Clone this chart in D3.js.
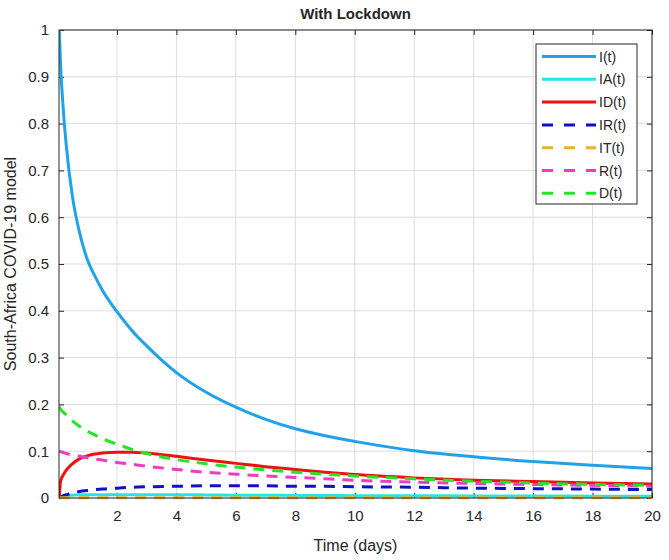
<!DOCTYPE html>
<html>
<head>
<meta charset="utf-8">
<script src="https://cdn.jsdelivr.net/npm/d3@7"></script>
<style>
  html, body { margin: 0; padding: 0; background: #fff; }
  svg { display: block; }
  text { font-family: "Liberation Sans", Arial, sans-serif; fill: #262626; }
</style>
</head>
<body>
<svg id="chart" width="669" height="560"></svg>
<script>
// ---- data ----
const title = "With Lockdown";
const xLabel = "Time (days)";
const yLabel = "South-Africa COVID-19 model";
const xTicks = [2, 4, 6, 8, 10, 12, 14, 16, 18, 20];
const yTicks = [0, 0.1, 0.2, 0.3, 0.4, 0.5, 0.6, 0.7, 0.8, 0.9, 1];
const xDomain = [0.05, 20];
const yDomain = [0, 1];

const t     = [0.06, 0.1, 0.2, 0.3, 0.5, 0.75, 1, 1.25, 1.5, 2, 2.5, 3, 4, 5, 6, 7, 8, 9, 10, 12, 14, 16, 18, 20];
const I_t   = [1.0, 0.93, 0.825, 0.75, 0.645, 0.565, 0.51, 0.475, 0.445, 0.398, 0.358, 0.325, 0.268, 0.226, 0.194, 0.168, 0.148, 0.133, 0.121, 0.101, 0.088, 0.078, 0.07, 0.063];
const IA_t  = [0, 0.002, 0.004, 0.005, 0.006, 0.007, 0.007, 0.007, 0.007, 0.007, 0.007, 0.007, 0.007, 0.0065, 0.006, 0.006, 0.0055, 0.0055, 0.005, 0.005, 0.0045, 0.0045, 0.004, 0.004];
const ID_t  = [0, 0.035, 0.05, 0.06, 0.073, 0.084, 0.09, 0.094, 0.096, 0.098, 0.098, 0.096, 0.089, 0.081, 0.074, 0.067, 0.061, 0.055, 0.05, 0.043, 0.038, 0.035, 0.032, 0.03];
const IR_t  = [0, 0.002, 0.005, 0.007, 0.011, 0.014, 0.016, 0.018, 0.019, 0.021, 0.023, 0.024, 0.025, 0.026, 0.026, 0.026, 0.025, 0.025, 0.024, 0.023, 0.021, 0.02, 0.019, 0.018];
const IT_t  = [0, 0.0003, 0.0005, 0.0006, 0.0007, 0.0008, 0.0008, 0.0008, 0.0008, 0.0008, 0.0008, 0.0008, 0.0008, 0.0007, 0.0007, 0.0007, 0.0006, 0.0006, 0.0006, 0.0005, 0.0005, 0.0005, 0.0004, 0.0004];
const R_t   = [0.1, 0.099, 0.097, 0.095, 0.092, 0.089, 0.086, 0.0835, 0.081, 0.076, 0.072, 0.068, 0.061, 0.055, 0.051, 0.047, 0.044, 0.041, 0.038, 0.034, 0.031, 0.029, 0.027, 0.025];
const D_t   = [0.195, 0.19, 0.183, 0.177, 0.165, 0.153, 0.143, 0.135, 0.127, 0.115, 0.104, 0.095, 0.082, 0.073, 0.066, 0.06, 0.055, 0.051, 0.047, 0.041, 0.036, 0.032, 0.029, 0.027];

const seriesNames  = ["I(t)", "IA(t)", "ID(t)", "IR(t)", "IT(t)", "R(t)", "D(t)"];
const seriesValues = [I_t, IA_t, ID_t, IR_t, IT_t, R_t, D_t];
const seriesColors = ["#1fa2ea", "#22e6e6", "#ee1111", "#1010c8", "#edb120", "#ec3cc4", "#22e622"];
const seriesDashed = [false, false, false, true, true, true, true];

// ---- layout ----
const svg = d3.select("#chart");
const L = 59, R = 652, T = 30, B = 498;
const x = d3.scaleLinear().domain(xDomain).range([L, R]);
const y = d3.scaleLinear().domain(yDomain).range([B, T]);

svg.append("rect").attr("x", 0).attr("y", 0).attr("width", 669).attr("height", 560).attr("fill", "#fff");

// grid
const grid = svg.append("g");
grid.selectAll(".gx").data(xTicks).enter().append("line")
  .attr("x1", d => x(d)).attr("x2", d => x(d)).attr("y1", T).attr("y2", B)
  .attr("stroke", "#dcdcdc").attr("stroke-width", 1);
grid.selectAll(".gy").data(yTicks).enter().append("line")
  .attr("x1", L).attr("x2", R).attr("y1", d => y(d)).attr("y2", d => y(d))
  .attr("stroke", "#dcdcdc").attr("stroke-width", 1);

// axes
const axisColor = "#262626";
function styleAxis(g) {
  g.select(".domain").remove();
  g.selectAll(".tick line").attr("stroke", axisColor);
  g.selectAll(".tick text").attr("fill", axisColor).style("font-size", "15px")
    .style("font-family", "'Liberation Sans', Arial, sans-serif");
}
svg.append("g").attr("transform", `translate(0,${B})`)
  .call(d3.axisBottom(x).tickValues(xTicks).tickSize(-5).tickPadding(12).tickFormat(d3.format("d")))
  .call(styleAxis);
svg.append("g").attr("transform", `translate(0,${T})`)
  .call(d3.axisTop(x).tickValues(xTicks).tickSize(-5).tickFormat(""))
  .call(styleAxis);
svg.append("g").attr("transform", `translate(${L},0)`)
  .call(d3.axisLeft(y).tickValues(yTicks).tickSize(-5).tickPadding(10).tickFormat(d => d === 0 || d === 1 ? String(d) : d3.format(".1f")(d)))
  .call(styleAxis);
svg.append("g").attr("transform", `translate(${R},0)`)
  .call(d3.axisRight(y).tickValues(yTicks).tickSize(-5).tickFormat(""))
  .call(styleAxis);

// clip
svg.append("clipPath").attr("id", "clip").append("rect")
  .attr("x", L).attr("y", T - 2).attr("width", R - L).attr("height", B - T + 4);

const line = d3.line().x(d => x(d[0])).y(d => y(d[1])).curve(d3.curveMonotoneX);
const plot = svg.append("g").attr("clip-path", "url(#clip)");
seriesValues.forEach((vals, i) => {
  plot.append("path")
    .datum(t.map((tt, k) => [tt, vals[k]]))
    .attr("d", line)
    .attr("fill", "none")
    .attr("stroke", seriesColors[i])
    .attr("stroke-width", 3)
    .attr("stroke-dasharray", seriesDashed[i] ? "11,8" : null);
});

// box
svg.append("rect").attr("x", L).attr("y", T).attr("width", R - L).attr("height", B - T)
  .attr("fill", "none").attr("stroke", axisColor).attr("stroke-width", 1);

// title and labels
svg.append("text").attr("x", (L + R) / 2).attr("y", 19).attr("text-anchor", "middle")
  .style("font-size", "15px").style("font-weight", "bold").text(title);
svg.append("text").attr("x", (L + R) / 2).attr("y", 551).attr("text-anchor", "middle")
  .style("font-size", "16px").text(xLabel);
svg.append("text").attr("transform", `translate(16,${(T + B) / 2}) rotate(-90)`)
  .attr("text-anchor", "middle").style("font-size", "16px").text(yLabel);

// legend
const lg = svg.append("g");
const lx = 536, ly = 44, lw = 101, lh = 160, rowH = 22.8;
lg.append("rect").attr("x", lx).attr("y", ly).attr("width", lw).attr("height", lh)
  .attr("fill", "#fff").attr("stroke", axisColor).attr("stroke-width", 1);
seriesNames.forEach((name, i) => {
  const yy = ly + 12.5 + i * rowH;
  lg.append("line").attr("x1", lx + 6).attr("x2", lx + 60).attr("y1", yy).attr("y2", yy)
    .attr("stroke", seriesColors[i]).attr("stroke-width", 3)
    .attr("stroke-dasharray", seriesDashed[i] ? "11,11" : null);
  lg.append("text").attr("x", lx + 63).attr("y", yy + 5).style("font-size", "14px").text(name);
});
</script>
</body>
</html>
